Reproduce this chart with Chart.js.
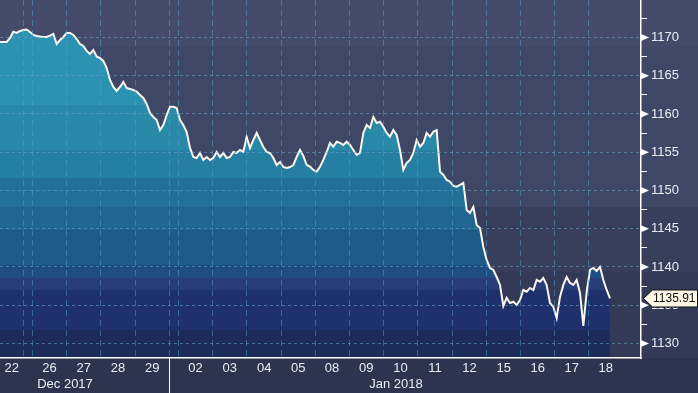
<!DOCTYPE html>
<html>
<head>
<meta charset="utf-8">
<script src="https://cdn.jsdelivr.net/npm/chart.js@4.4.0/dist/chart.umd.min.js"></script>
<style>
  html, body { margin: 0; padding: 0; background: #2d3450; }
  canvas { display: block; }
</style>
</head>
<body>
<canvas id="chart" width="698" height="393"></canvas>
<script>
// gold price, one value per ~2.2h bar (x = bar index)
const prices = [
  1169.41, 1169.41, 1169.41, 1169.93, 1170.76, 1170.59, 1170.85, 1170.98, 1171.05, 1170.72,
  1170.33, 1170.20, 1170.13, 1170.07, 1170.07, 1170.25, 1170.46, 1169.15, 1169.67, 1170.07,
  1170.59, 1170.59, 1170.33, 1169.80, 1169.15, 1168.89, 1168.24, 1167.84, 1168.37, 1167.52,
  1167.32, 1166.93, 1166.01, 1164.44, 1163.53, 1163.01, 1163.53, 1164.18, 1163.40, 1163.27,
  1163.14, 1162.94, 1162.48, 1162.09, 1161.31, 1160.13, 1159.61, 1159.22, 1157.91, 1158.56,
  1159.87, 1160.95, 1160.95, 1160.78, 1159.22, 1158.56, 1157.65, 1155.56, 1154.38, 1154.25,
  1154.90, 1153.99, 1154.38, 1153.99, 1154.25, 1155.03, 1154.38, 1154.90, 1154.25, 1154.38,
  1155.03, 1154.90, 1155.29, 1155.07, 1156.99, 1155.56, 1156.60, 1157.52, 1156.60, 1155.69,
  1155.03, 1154.90, 1154.25, 1153.33, 1153.73, 1153.07, 1152.94, 1153.07, 1153.33, 1154.38,
  1155.29, 1154.51, 1153.33, 1153.11, 1152.68, 1152.46, 1153.11, 1153.99, 1155.03, 1156.21,
  1155.73, 1156.38, 1156.21, 1155.95, 1156.38, 1155.95, 1155.29, 1154.64, 1154.90, 1157.52,
  1158.56, 1158.17, 1159.61, 1158.82, 1158.99, 1158.34, 1157.52, 1157.03, 1157.91, 1157.26,
  1155.29, 1152.68, 1153.60, 1153.99, 1154.90, 1156.60, 1155.73, 1156.21, 1157.52, 1157.03,
  1157.69, 1157.91, 1152.46, 1152.03, 1151.37, 1151.15, 1150.59, 1150.50, 1150.72, 1150.98,
  1147.45, 1147.06, 1147.84, 1145.49, 1145.10, 1142.61, 1140.92, 1139.87, 1139.61, 1138.69,
  1137.65, 1134.90, 1135.95, 1135.29, 1135.46, 1135.03, 1135.69, 1136.99, 1136.77, 1137.26,
  1136.99, 1138.30, 1138.08, 1138.56, 1137.65, 1135.29, 1134.77, 1133.33, 1136.08, 1137.65,
  1138.69, 1137.91, 1137.65, 1138.30, 1136.60, 1132.29, 1136.73, 1139.61, 1139.87, 1139.48,
  1140.00, 1138.30, 1136.99, 1135.91
];
const lastPrice = 1135.91;

// trading sessions (bar index where each one starts), '' = holiday stub
const dayLabels = ['22', '', '26', '27', '28', '29', '', '02', '03', '04', '05', '08', '09', '10', '11', '12', '15', '16', '17', '18'];
const dayEdges = [0, 7.0, 9.7, 20.0, 30.2, 40.6, 50.8, 53.5, 63.8, 74.0, 84.5, 94.5, 104.7, 115.0, 125.3, 135.7, 146.0, 156.2, 166.4, 176.6, 186.9];
const xEnd = 192.3;

const monthLabels = ['Dec 2017', 'Jan 2018'];
const monthAt = [19.5, 118.8];

const yMin = 1128.1, yMax = 1174.9;
const yTicks = [1130, 1132.5, 1135, 1137.5, 1140, 1142.5, 1145, 1147.5, 1150, 1152.5, 1155, 1157.5, 1160, 1162.5, 1165, 1167.5, 1170, 1172.5];

// x ticks: session edges carry the grid, session middles carry the day label
let xTicks = [];
dayEdges.slice(1, dayLabels.length).forEach(v => xTicks.push({ value: v, label: '', grid: true }));
dayLabels.forEach((lab, i) => {
  if (lab) xTicks.push({ value: (dayEdges[i] + dayEdges[i + 1]) / 2, label: lab, grid: false });
});
monthLabels.forEach((m, i) => xTicks.push({ value: monthAt[i], label: ['', m], grid: false }));
xTicks.sort((a, b) => a.value - b.value);

const newYearEdge = dayEdges[dayLabels.indexOf('02') - 1];

const fillBands = [
  [0, 105, '#2b93b1'], [105, 150, '#2889a9'], [150, 178, '#257fa2'], [178, 207, '#227298'],
  [207, 230, '#206691'], [230, 265, '#1f5b89'], [265, 278, '#1f4d81'], [278, 290, '#293d78'],
  [290, 330, '#1f316d'], [330, 358, '#1c2b5a']
];
const bgBands = [[0, 47, '#444b6a'], [47, 207, '#3e4765'], [207, 272, '#373f5d'], [272, 358, '#323a58']];

function fillGradient(chart) {
  const { ctx, chartArea } = chart;
  if (!chartArea) return '#2b93b1';
  const h = chartArea.bottom - chartArea.top;
  const g = ctx.createLinearGradient(0, chartArea.top, 0, chartArea.bottom);
  fillBands.forEach(([a, b, c]) => {
    g.addColorStop(Math.min(a / h, 1), c);
    g.addColorStop(Math.min(b / h, 1), c);
  });
  return g;
}

const bloombergLook = {
  id: 'bloombergLook',
  beforeDraw(chart) {
    const { ctx, chartArea, width, height } = chart;
    ctx.save();
    ctx.fillStyle = '#2d3450';
    ctx.fillRect(0, 0, width, height);
    bgBands.forEach(([a, b, c]) => {
      ctx.fillStyle = c;
      ctx.fillRect(0, chartArea.top + a, width, Math.min(b, chartArea.bottom) - a);
    });
    ctx.restore();
  },
  afterDraw(chart) {
    const { ctx, chartArea, width, height } = chart;
    const xs = chart.scales.x, ys = chart.scales.y;
    ctx.save();
    // month separator under the axis
    const sx = Math.round(xs.getPixelForValue(newYearEdge)) + 0.5;
    ctx.strokeStyle = '#ffffff';
    ctx.lineWidth = 1;
    ctx.beginPath();
    ctx.moveTo(sx, chartArea.bottom);
    ctx.lineTo(sx, height);
    ctx.stroke();
    // triangles on the major y ticks
    ctx.fillStyle = '#ffffff';
    yTicks.filter(v => v % 5 === 0).forEach(v => {
      const y = ys.getPixelForValue(v);
      ctx.beginPath();
      ctx.moveTo(chartArea.right, y - 3.5);
      ctx.lineTo(chartArea.right + 8, y);
      ctx.lineTo(chartArea.right, y + 3.5);
      ctx.closePath();
      ctx.fill();
    });
    // last price tag
    const py = Math.round(ys.getPixelForValue(lastPrice)) + 0.5;
    const tip = chartArea.right + 2.5;
    ctx.beginPath();
    ctx.moveTo(tip, py);
    ctx.lineTo(tip + 9, py - 8.5);
    ctx.lineTo(width - 0.5, py - 8.5);
    ctx.lineTo(width - 0.5, py + 8.5);
    ctx.lineTo(tip + 9, py + 8.5);
    ctx.closePath();
    ctx.fillStyle = '#fdf5e6';
    ctx.fill();
    ctx.strokeStyle = '#111111';
    ctx.stroke();
    ctx.fillStyle = '#111111';
    ctx.font = '12px "Liberation Sans"';
    ctx.textBaseline = 'middle';
    ctx.fillText(lastPrice.toFixed(2), tip + 9.5, py + 0.5);
    ctx.restore();
  }
};

Chart.defaults.font.family = '"Liberation Sans", Arial, sans-serif';

const ctx = document.getElementById('chart').getContext('2d');
const chart = new Chart(ctx, {
  type: 'line',
  data: {
    datasets: [{
      data: prices.map((p, i) => ({ x: i, y: p })),
      borderColor: '#fbf7ef',
      borderWidth: 2,
      pointRadius: 0,
      tension: 0,
      fill: 'start',
      backgroundColor: c => fillGradient(c.chart)
    }]
  },
  options: {
    responsive: false,
    devicePixelRatio: 1,
    animation: false,
    layout: { padding: 0 },
    plugins: { legend: { display: false }, tooltip: { enabled: false } },
    scales: {
      x: {
        type: 'linear',
        position: 'bottom',
        min: 0,
        max: xEnd,
        afterBuildTicks: axis => { axis.ticks = xTicks.map(t => ({ value: t.value })); },
        afterFit: axis => { axis.height = 35; axis.paddingLeft = 0; axis.paddingRight = 0; },
        ticks: {
          autoSkip: false,
          maxRotation: 0,
          padding: 2,
          color: '#e9eef5',
          font: { size: 13, lineHeight: 1.23 },
          callback: (v, i) => xTicks[i].label
        },
        grid: {
          z: 1,
          drawTicks: false,
          lineWidth: 1,
          color: c => (xTicks[c.index] && xTicks[c.index].grid) ? 'rgba(80,160,205,0.5)' : 'rgba(0,0,0,0)'
        },
        border: { display: true, color: '#ffffff', width: 1.5, dash: [6, 4], z: 2 }
      },
      y: {
        position: 'right',
        min: yMin,
        max: yMax,
        afterBuildTicks: axis => { axis.ticks = yTicks.map(v => ({ value: v })); },
        afterFit: axis => { axis.width = 57; axis.paddingTop = 0; axis.paddingBottom = 0; },
        ticks: {
          padding: 4,
          color: '#e9eef5',
          font: { size: 13 },
          callback: v => (v % 5 === 0 ? String(v) : '')
        },
        grid: {
          z: 1,
          tickLength: 6,
          lineWidth: 1,
          color: c => (c.tick && c.tick.value % 5 === 0) ? 'rgba(110,165,200,0.55)' : 'rgba(0,0,0,0)',
          tickColor: c => (c.tick && c.tick.value % 5 !== 0) ? '#ffffff' : 'rgba(0,0,0,0)',
          tickWidth: 1
        },
        border: { display: true, color: '#ffffff', width: 1.5, dash: [3, 3], z: 2 }
      }
    }
  },
  plugins: [bloombergLook]
});
</script>
</body>
</html>
